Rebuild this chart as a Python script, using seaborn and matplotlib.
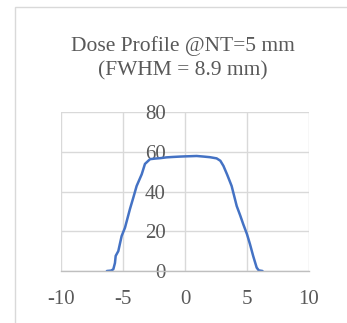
import matplotlib
matplotlib.use("Agg")
import matplotlib.pyplot as plt
from matplotlib.patches import Rectangle
import seaborn as sns
import pandas as pd

# dose profile
position_mm = [-6.3, -5.95, -5.78, -5.65, -5.59, -5.38, -5.11, -4.84, -4.44, -4.17,
               -3.9, -3.49, -3.23, -2.82, -2.4, -2.0, -1.5, -1.0, -0.4, 0.0,
               0.5, 0.94, 1.5, 2.0, 2.55, 2.85, 3.1, 3.4, 3.76, 4.17,
               4.45, 4.7, 5.0, 5.24, 5.5, 5.78, 5.95, 6.25]
dose = [0.0, 0.2, 0.9, 4.0, 7.6, 10.0, 17.6, 21.8, 31.2, 36.9,
        42.8, 48.7, 53.9, 56.3, 56.6, 56.8, 57.2, 57.4, 57.6, 57.7,
        57.8, 57.9, 57.6, 57.3, 56.7, 55.5, 52.9, 48.5, 42.8, 32.7,
        28.0, 23.5, 18.5, 13.5, 7.5, 1.7, 0.3, 0.0]

x_ticks = [-10, -5, 0, 5, 10]
y_ticks = [0, 20, 40, 60, 80]
title = "Dose Profile @NT=5 mm\n(FWHM = 8.9 mm)"

df = pd.DataFrame({"position": position_mm, "dose": dose})

sns.set_theme(style="whitegrid")
plt.rcParams["font.family"] = ["Liberation Serif", "DejaVu Serif"]
plt.rcParams["axes.unicode_minus"] = False
text_color = "#595959"

fig = plt.figure(figsize=(3.47, 3.23), dpi=100)
ax = fig.add_axes([0.1758, 0.161, 0.7147, 0.492])

sns.lineplot(data=df, x="position", y="dose", color="#4472C4", linewidth=1.8, ax=ax)

ax.set_xlim(-10, 10)
ax.set_ylim(0, 80)
ax.set_xticks(x_ticks)
ax.set_yticks(y_ticks)
ax.set_xlabel("")
ax.set_ylabel("")
ax.grid(True, color="#d9d9d9", linewidth=1.0)

for side in ["top", "right"]:
    ax.spines[side].set_visible(False)
ax.spines["left"].set_position(("data", 0))
ax.spines["left"].set_visible(False)
ax.spines["bottom"].set_color("#bfbfbf")
ax.spines["bottom"].set_linewidth(1.0)

ax.tick_params(axis="both", length=0, labelsize=15, colors=text_color)
ax.tick_params(axis="x", pad=14)
ax.tick_params(axis="y", pad=14)

fig.text(0.527, 0.82, title, fontsize=15.5, color=text_color,
         ha="center", va="center", linespacing=1.35)

# chart border, cut off by the image edge
fig.add_artist(Rectangle((15 / 347, -0.2), 1.2, 1.2 - 7 / 323, transform=fig.transFigure,
                         fill=False, edgecolor="#d9d9d9", linewidth=1.0))

fig.savefig("out.png", dpi=100)
plt.close(fig)
